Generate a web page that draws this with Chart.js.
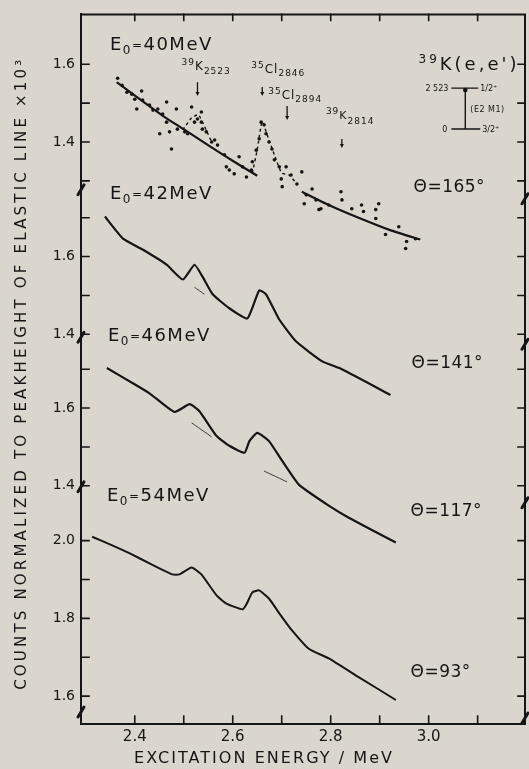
<!DOCTYPE html>
<html>
<head>
<meta charset="utf-8">
<script src="https://cdn.jsdelivr.net/npm/chart.js@4.4.1/dist/chart.umd.min.js"></script>
<style>
  html, body { margin: 0; padding: 0; background: #dbd6cd; }
  canvas { display: block; }
</style>
</head>
<body>
<canvas id="spectra" width="529" height="769"></canvas>
<script>
// excitation energy axis (MeV)
const energyTicks = [2.4, 2.5, 2.6, 2.7, 2.8, 2.9, 3.0, 3.1];
const energyLabels = ['2.4', '', '2.6', '', '2.8', '', '3.0', ''];

// count ticks per panel, top panel (40 MeV) first
const countTicks = [
  [1.3, 1.4, 1.5, 1.6],
  [1.4, 1.5, 1.6, 1.7],
  [1.4, 1.5, 1.6, 1.7],
  [1.6, 1.7, 1.8, 1.9, 2.0]
];
const countLabels = [
  ['', '1.4', '', '1.6'],
  ['1.4', '', '1.6', ''],
  ['1.4', '', '1.6', ''],
  ['1.6', '', '1.8', '', '2.0']
];

const beamEnergies = ['40', '42', '46', '54'];
const angles = ['165°', '141°', '117°', '93°'];

// 40 MeV, 165 deg: single measured points
const e40Energy = [2.365, 2.374, 2.384, 2.394, 2.400, 2.404, 2.414, 2.416, 2.430, 2.437, 2.447, 2.451, 2.457, 2.465, 2.465,
  2.471, 2.475, 2.485, 2.487, 2.502, 2.508, 2.516, 2.522, 2.528, 2.536, 2.536, 2.538, 2.546, 2.557, 2.563, 2.569, 2.583,
  2.587, 2.593, 2.603, 2.613, 2.620, 2.628, 2.638, 2.640, 2.648, 2.654, 2.658, 2.664, 2.668, 2.674, 2.680, 2.685, 2.695,
  2.699, 2.701, 2.709, 2.719, 2.731, 2.741, 2.746, 2.750, 2.762, 2.770, 2.776, 2.780, 2.796, 2.821, 2.823, 2.843, 2.863,
  2.867, 2.892, 2.892, 2.898, 2.912, 2.939, 2.953, 2.955, 2.973];
const e40Counts = [1.564, 1.546, 1.528, 1.523, 1.510, 1.485, 1.531, 1.508, 1.495, 1.482, 1.485, 1.421, 1.472, 1.503, 1.451,
  1.426, 1.382, 1.485, 1.433, 1.426, 1.421, 1.490, 1.451, 1.459, 1.477, 1.451, 1.433, 1.426, 1.400, 1.405, 1.392, 1.367,
  1.336, 1.328, 1.318, 1.362, 1.336, 1.310, 1.328, 1.349, 1.379, 1.408, 1.451, 1.444, 1.421, 1.400, 1.382, 1.354, 1.336,
  1.305, 1.285, 1.336, 1.315, 1.292, 1.323, 1.241, 1.264, 1.279, 1.251, 1.226, 1.228, 1.238, 1.272, 1.251, 1.228, 1.238,
  1.221, 1.226, 1.203, 1.241, 1.162, 1.182, 1.126, 1.144, 1.151];
// 40 MeV smooth background, two pieces
const e40FitAEnergy = [2.363, 2.410, 2.461, 2.502, 2.552, 2.603, 2.650];
const e40FitACounts = [1.554, 1.510, 1.464, 1.431, 1.390, 1.349, 1.313];
const e40FitBEnergy = [2.741, 2.796, 2.857, 2.924, 2.983];
const e40FitBCounts = [1.272, 1.238, 1.205, 1.172, 1.149];
// 40 MeV peak traces
const e40PeakAEnergy = [2.498, 2.516, 2.530, 2.546, 2.557];
const e40PeakACounts = [1.431, 1.462, 1.470, 1.430, 1.400];
const e40PeakBEnergy = [2.640, 2.650, 2.660, 2.674, 2.690, 2.700, 2.715, 2.731];
const e40PeakBCounts = [1.320, 1.380, 1.452, 1.405, 1.350, 1.320, 1.315, 1.292];

// 42 MeV, 141 deg
const e42Energy = [2.339, 2.376, 2.416, 2.465, 2.498, 2.522, 2.538, 2.559, 2.593, 2.630, 2.654, 2.668, 2.695, 2.729, 2.782, 2.823, 2.922];
const e42Counts = [1.703, 1.646, 1.618, 1.579, 1.541, 1.579, 1.549, 1.503, 1.467, 1.441, 1.513, 1.503, 1.438, 1.382, 1.331, 1.310, 1.244];
const e42BgEnergy = [2.522, 2.542];
const e42BgCounts = [1.521, 1.503];

// 46 MeV, 117 deg
const e46Energy = [2.343, 2.396, 2.430, 2.481, 2.512, 2.532, 2.567, 2.593, 2.624, 2.634, 2.650, 2.674, 2.701, 2.735, 2.796, 2.837, 2.933];
const e46Counts = [1.703, 1.664, 1.638, 1.590, 1.610, 1.592, 1.528, 1.503, 1.485, 1.515, 1.536, 1.515, 1.464, 1.403, 1.349, 1.318, 1.254];
const e46BgAEnergy = [2.516, 2.557];
const e46BgACounts = [1.562, 1.526];
const e46BgBEnergy = [2.664, 2.711];
const e46BgBCounts = [1.438, 1.410];

// 54 MeV, 93 deg
const e54Energy = [2.313, 2.355, 2.390, 2.431, 2.477, 2.491, 2.516, 2.536, 2.567, 2.587, 2.620, 2.628, 2.640, 2.654, 2.674, 2.695, 2.721, 2.756, 2.796, 2.857, 2.933];
const e54Counts = [2.010, 1.987, 1.967, 1.941, 1.913, 1.913, 1.931, 1.913, 1.859, 1.838, 1.823, 1.836, 1.867, 1.872, 1.851, 1.813, 1.769, 1.721, 1.697, 1.649, 1.590];

// vertical shift of each panel on the shared axis
const panelOffsets = [1.6256, 1.1308, 0.741, 0];
const ink = '#151515';
const font = '"DejaVu Sans"';

function pts(xs, ys, p) {
  return xs.map((x, i) => ({x: x, y: ys[i] + panelOffsets[p]}));
}
function curve(data, width, dash) {
  return {data: data, borderColor: ink, borderWidth: width, borderDash: dash || [], pointRadius: 0, tension: 0.15, fill: false};
}

const yTickValues = countTicks.flatMap((arr, p) => arr.map(v => v + panelOffsets[p]));
const yTickText = countLabels.flat();

// annotation positions in axis units (energy, shifted counts)
const beamPos = [[2.3492, 3.2615], [2.3492, 2.8795], [2.3451, 2.5128], [2.3431, 2.1026]];
const anglePos = [[2.9691, 2.8974], [2.9650, 2.4436], [2.9630, 2.0641], [2.9630, 1.6487]];
const notes = [
  {x: 2.4955, y: 3.2103, ls: 1, parts: [['39', 9, -5], ['K', 12, 0], ['2523', 9, 4]]},
  {x: 2.6378, y: 3.2026, ls: 1, parts: [['35', 9, -5], ['Cl', 12, 0], ['2846', 9, 3]]},
  {x: 2.6724, y: 3.1359, ls: 1, parts: [['35', 9, -5], ['Cl', 12, 0], ['2894', 9, 3]]},
  {x: 2.7902, y: 3.0846, ls: 1, parts: [['39', 9, -5], ['K', 11, 0], ['2814', 9, 5]]},
  {x: 2.9793, y: 3.2103, ls: 3, parts: [['39', 12, -7], ["K(e,e')", 18, 0]]},
  {x: 3.1053, y: 3.1564, ls: 0, parts: [['1/2⁺', 8, 0]]},
  {x: 3.0850, y: 3.1026, ls: 0.5, parts: [['(E2 M1)', 8, 0]]},
  {x: 3.1093, y: 3.0513, ls: 0, parts: [['3/2⁺', 8, 0]]}
];
const arrows = [[2.5280, 3.1795, 3.1462], [2.6602, 3.1667, 3.1462], [2.7110, 3.1179, 3.0846], [2.8228, 3.0333, 3.0128]];
const leftBreaks = [2.9026, 2.5231, 2.1385, 1.5590];
const rightBreaks = [2.8795, 2.5051, 2.0974, 1.5436];

function drawParts(ctx, x, y, parts, ls) {
  let cx = x;
  ctx.letterSpacing = ls + 'px';
  parts.forEach(([text, size, dy]) => {
    ctx.font = size + 'px ' + font;
    ctx.fillText(text, cx, y + dy);
    cx += ctx.measureText(text).width;
  });
  ctx.letterSpacing = '0px';
}

function spacedText(ctx, text, size, target) {
  ctx.font = size + 'px ' + font;
  ctx.letterSpacing = '0px';
  const w = ctx.measureText(text).width;
  ctx.letterSpacing = ((target - w) / (text.length - 1)) + 'px';
}

const framePlugin = {
  id: 'frame',
  afterDraw(chart) {
    const ctx = chart.ctx;
    const xs = chart.scales.x, ys = chart.scales.y;
    const a = chart.chartArea;
    ctx.save();
    ctx.strokeStyle = ink;
    ctx.fillStyle = ink;
    ctx.lineCap = 'square';

    // top and right border
    ctx.lineWidth = 2;
    ctx.beginPath();
    ctx.moveTo(a.left, a.top); ctx.lineTo(a.right, a.top); ctx.lineTo(a.right, a.bottom);
    ctx.stroke();

    // inward tick marks
    ctx.lineWidth = 1.6;
    energyTicks.forEach(v => {
      const px = xs.getPixelForValue(v);
      ctx.beginPath();
      ctx.moveTo(px, a.bottom); ctx.lineTo(px, a.bottom - 8);
      ctx.moveTo(px, a.top); ctx.lineTo(px, a.top + 6);
      ctx.stroke();
    });
    yTickValues.forEach(v => {
      const py = ys.getPixelForValue(v);
      ctx.beginPath();
      ctx.moveTo(a.left, py); ctx.lineTo(a.left + 8, py);
      ctx.moveTo(a.right, py); ctx.lineTo(a.right - 7, py);
      ctx.stroke();
    });

    // axis break marks
    ctx.lineWidth = 3;
    ctx.lineCap = 'round';
    leftBreaks.forEach(v => {
      const py = ys.getPixelForValue(v);
      ctx.beginPath(); ctx.moveTo(a.left - 3, py + 5); ctx.lineTo(a.left + 3, py - 5); ctx.stroke();
    });
    rightBreaks.forEach(v => {
      const py = ys.getPixelForValue(v);
      ctx.beginPath(); ctx.moveTo(a.right - 3, py + 5); ctx.lineTo(a.right + 3, py - 5); ctx.stroke();
    });

    // transition arrows
    ctx.lineWidth = 1.3;
    ctx.lineCap = 'butt';
    arrows.forEach(([e, y1, y2]) => {
      const px = xs.getPixelForValue(e), p1 = ys.getPixelForValue(y1), p2 = ys.getPixelForValue(y2);
      ctx.beginPath(); ctx.moveTo(px, p1); ctx.lineTo(px, p2 - 2); ctx.stroke();
      ctx.beginPath(); ctx.moveTo(px - 2, p2 - 3); ctx.lineTo(px + 2, p2 - 3); ctx.lineTo(px, p2 + 1); ctx.closePath(); ctx.fill();
    });

    // level scheme of 39K
    const lx = v => xs.getPixelForValue(v), ly = v => ys.getPixelForValue(v);
    ctx.lineWidth = 1.4;
    ctx.beginPath();
    ctx.moveTo(lx(3.0463), ly(3.1641)); ctx.lineTo(lx(3.1012), ly(3.1641));
    ctx.moveTo(lx(3.0463), ly(3.0590)); ctx.lineTo(lx(3.1053), ly(3.0590));
    ctx.moveTo(lx(3.0748), ly(3.1641)); ctx.lineTo(lx(3.0748), ly(3.0590));
    ctx.stroke();
    ctx.beginPath(); ctx.arc(lx(3.0748), ly(3.1590), 2.3, 0, Math.PI * 2); ctx.fill();
    ctx.font = '8px ' + font;
    ctx.textAlign = 'right';
    ctx.fillText('2 523', lx(3.0402), ly(3.1564));
    ctx.fillText('0', lx(3.0382), ly(3.0513));
    ctx.textAlign = 'left';

    // panel labels
    beamEnergies.forEach((e, i) => {
      drawParts(ctx, lx(beamPos[i][0]), ly(beamPos[i][1]),
        [['E', 18, 0], ['0', 12, 4], ['=', 12, -1], [e + 'MeV', 18, 0]], 1.5);
    });
    angles.forEach((t, i) => {
      drawParts(ctx, lx(anglePos[i][0]), ly(anglePos[i][1]), [['Θ=' + t, 17, 0]], 0.5);
    });
    notes.forEach(n => drawParts(ctx, lx(n.x), ly(n.y), n.parts, n.ls));

    // axis titles
    const yTitle = 'COUNTS NORMALIZED TO PEAKHEIGHT OF ELASTIC LINE ×10³';
    ctx.save();
    ctx.translate(22, (a.top + a.bottom) / 2 + 4);
    ctx.rotate(-Math.PI / 2);
    spacedText(ctx, yTitle, 15, 630);
    ctx.textAlign = 'center';
    ctx.textBaseline = 'middle';
    ctx.fillText(yTitle, 0, 0);
    ctx.restore();

    const xTitle = 'EXCITATION ENERGY / MeV';
    spacedText(ctx, xTitle, 16, 258);
    ctx.textAlign = 'center';
    ctx.textBaseline = 'middle';
    ctx.fillText(xTitle, a.left + 183, 759);
    ctx.letterSpacing = '0px';
    ctx.restore();
  }
};

new Chart(document.getElementById('spectra'), {
  type: 'line',
  data: {
    datasets: [
      {data: pts(e40Energy, e40Counts, 0), showLine: false, pointRadius: 1.8, pointBorderWidth: 0, pointBackgroundColor: ink},
      curve(pts(e40FitAEnergy, e40FitACounts, 0), 2.2),
      curve(pts(e40FitBEnergy, e40FitBCounts, 0), 2.2),
      curve(pts(e40PeakAEnergy, e40PeakACounts, 0), 1.4, [3, 3]),
      curve(pts(e40PeakBEnergy, e40PeakBCounts, 0), 1.4, [3, 3]),
      curve(pts(e42Energy, e42Counts, 1), 2.2),
      curve(pts(e42BgEnergy, e42BgCounts, 1), 0.8),
      curve(pts(e46Energy, e46Counts, 2), 2.2),
      curve(pts(e46BgAEnergy, e46BgACounts, 2), 0.8),
      curve(pts(e46BgBEnergy, e46BgBCounts, 2), 0.8),
      curve(pts(e54Energy, e54Counts, 3), 2)
    ]
  },
  options: {
    responsive: false,
    animation: false,
    layout: {padding: {top: 12, right: 2, left: 0, bottom: 0}},
    plugins: {legend: {display: false}, tooltip: {enabled: false}},
    scales: {
      x: {
        type: 'linear', min: 2.2902, max: 3.1967,
        afterBuildTicks: s => { s.ticks = energyTicks.map(v => ({value: v})); },
        afterFit: s => { s.height = 45; },
        ticks: {callback: (v, i) => energyLabels[i], autoSkip: false, maxRotation: 0, padding: 4,
                color: ink, font: {family: 'DejaVu Sans', size: 15}},
        grid: {display: false, drawTicks: false},
        border: {display: true, color: ink, width: 2}
      },
      y: {
        type: 'linear', min: 1.5282, max: 3.3538,
        afterBuildTicks: s => { s.ticks = yTickValues.map(v => ({value: v})); },
        afterFit: s => { s.width = 81; },
        ticks: {callback: (v, i) => yTickText[i], autoSkip: false, padding: 6,
                color: ink, font: {family: 'DejaVu Sans', size: 14}},
        grid: {display: false, drawTicks: false},
        border: {display: true, color: ink, width: 2}
      }
    }
  },
  plugins: [framePlugin]
});
</script>
</body>
</html>
